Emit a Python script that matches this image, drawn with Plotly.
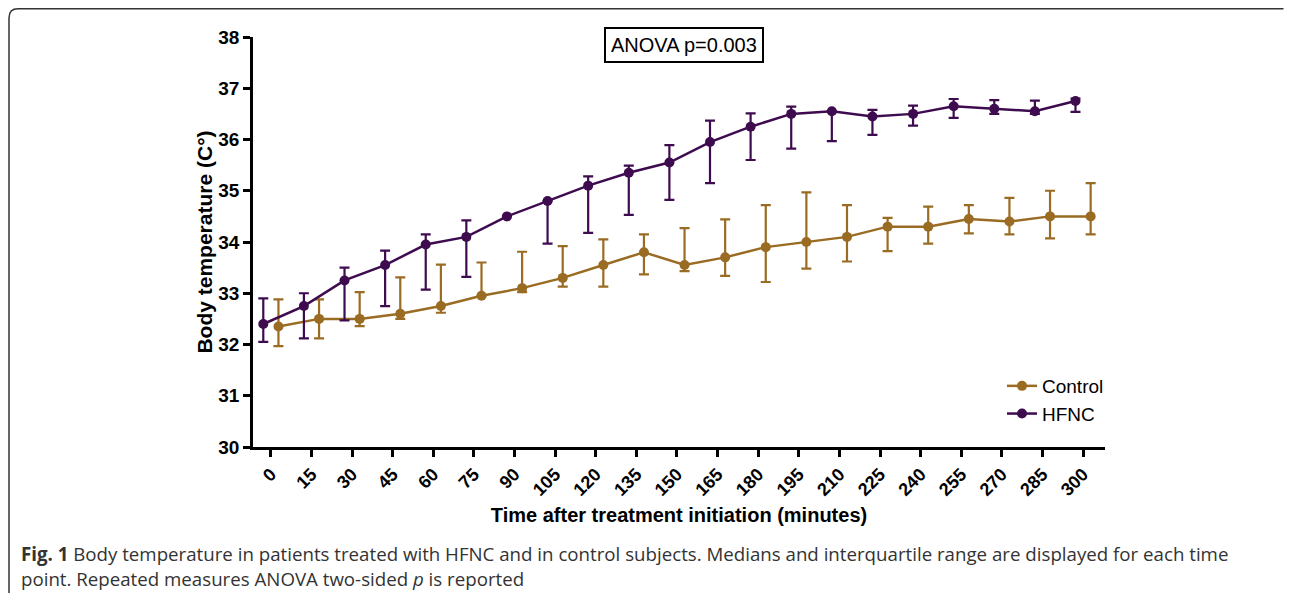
import plotly.graph_objects as go

minutes = [0, 15, 30, 45, 60, 75, 90, 105, 120, 135, 150, 165, 180, 195, 210, 225, 240, 255, 270, 285, 300]

hfnc_median = [32.40, 32.75, 33.25, 33.55, 33.95, 34.10, 34.50, 34.80, 35.10, 35.35, 35.55, 35.95, 36.25, 36.50, 36.55, 36.45, 36.50, 36.65, 36.60, 36.55, 36.75]
hfnc_q1 = [32.05, 32.12, 32.47, 32.75, 33.07, 33.32, 34.50, 33.97, 34.18, 34.53, 34.82, 35.15, 35.60, 35.82, 35.97, 36.09, 36.27, 36.42, 36.50, 36.50, 36.54]
hfnc_q3 = [32.90, 33.00, 33.50, 33.83, 34.15, 34.42, 34.50, 34.80, 35.28, 35.49, 35.89, 36.37, 36.51, 36.64, 36.55, 36.58, 36.66, 36.79, 36.77, 36.76, 36.80]

control_median = [32.35, 32.50, 32.50, 32.60, 32.75, 32.95, 33.10, 33.30, 33.55, 33.80, 33.55, 33.70, 33.90, 34.00, 34.10, 34.30, 34.30, 34.45, 34.40, 34.50, 34.50]
control_q1 = [31.97, 32.12, 32.36, 32.50, 32.62, 32.95, 33.02, 33.13, 33.13, 33.37, 33.43, 33.34, 33.22, 33.48, 33.62, 33.82, 33.97, 34.17, 34.15, 34.07, 34.15]
control_q3 = [32.88, 32.88, 33.02, 33.31, 33.56, 33.60, 33.81, 33.92, 34.05, 34.15, 34.27, 34.44, 34.72, 34.97, 34.72, 34.47, 34.69, 34.72, 34.86, 35.00, 35.15]

y_ticks = [30, 31, 32, 33, 34, 35, 36, 37, 38]

CONTROL_COLOR = "#9a6b22"
HFNC_COLOR = "#3e0b4f"
DODGE = 2.8  # minutes, horizontal nudge so the two series do not overlap

# The page has an 8px body margin on every side; keep the figure inside the window.
OFF = 8
W, H = 1292 - 2 * OFF, 601 - 2 * OFF
PLOT_L, PLOT_R, PLOT_T, PLOT_B = 253, 1105, 37, 447   # page coords of plot area
L, R, T, B = PLOT_L - OFF, (W + OFF) - PLOT_R, PLOT_T - OFF, (H + OFF) - PLOT_B
PW, PH = PLOT_R - PLOT_L, PLOT_B - PLOT_T


def px_x(px):
    return (px - PLOT_L) / PW


def px_y(py):
    return (PLOT_B - py) / PH


fig = go.Figure()

fig.add_trace(go.Scatter(
    x=[m + DODGE for m in minutes], y=control_median, name="Control",
    mode="lines+markers",
    line=dict(color=CONTROL_COLOR, width=2.5),
    marker=dict(color=CONTROL_COLOR, size=10, symbol="circle"),
    error_y=dict(type="data", symmetric=False,
                 array=[q - m for q, m in zip(control_q3, control_median)],
                 arrayminus=[m - q for q, m in zip(control_q1, control_median)],
                 color=CONTROL_COLOR, thickness=2.2, width=5),
))

fig.add_trace(go.Scatter(
    x=[m - DODGE for m in minutes], y=hfnc_median, name="HFNC",
    mode="lines+markers",
    line=dict(color=HFNC_COLOR, width=2.5),
    marker=dict(color=HFNC_COLOR, size=10, symbol="circle"),
    error_y=dict(type="data", symmetric=False,
                 array=[q - m for q, m in zip(hfnc_q3, hfnc_median)],
                 arrayminus=[m - q for q, m in zip(hfnc_q1, hfnc_median)],
                 color=HFNC_COLOR, thickness=2.2, width=5),
))

# Rounded frame around the figure panel (page coords): left side and top only,
# the right and bottom edges fall outside the visible window.
x0, x1, y0, y1, r = 9, 1283.5, 8.75, 604, 9
path = (f"M {px_x(x0)},{px_y(y1)} L {px_x(x0)},{px_y(y0 + r)} "
        f"Q {px_x(x0)},{px_y(y0)} {px_x(x0 + r)},{px_y(y0)} "
        f"L {px_x(x1)},{px_y(y0)}")

fig.update_layout(
    width=W, height=H,
    margin=dict(l=L, r=R, t=T, b=B, autoexpand=False),
    paper_bgcolor="white", plot_bgcolor="white",
    font=dict(family="Arial, Liberation Sans, sans-serif", color="black"),
    showlegend=True,
    legend=dict(x=px_x(1002), y=px_y(367), xanchor="left", yanchor="top",
                font=dict(size=19, family="Arial, Liberation Sans, sans-serif"),
                bgcolor="rgba(0,0,0,0)", borderwidth=0),
    xaxis=dict(
        range=[-6.6, 308.1], tickmode="array", tickvals=minutes,
        ticktext=[str(m) for m in minutes], tickangle=-45,
        showline=True, linecolor="black", linewidth=2.5,
        ticks="outside", ticklen=7, tickwidth=2.5, tickcolor="black",
        showgrid=False, zeroline=False,
        tickfont=dict(size=18, weight="bold"),
        title=dict(text="<b>Time after treatment initiation (minutes)</b>",
                   font=dict(size=20), standoff=10),
    ),
    yaxis=dict(
        range=[30, 38], tickmode="array", tickvals=y_ticks,
        showline=True, linecolor="black", linewidth=2.5,
        ticks="outside", ticklen=7, tickwidth=2.5, tickcolor="black",
        showgrid=False, zeroline=False,
        tickfont=dict(size=19, weight="bold"),
        title=dict(text="<b>Body temperature (C°)</b>", font=dict(size=21), standoff=0),
    ),
    shapes=[dict(type="path", path=path, xref="paper", yref="paper",
                 line=dict(color="#333333", width=1.5))],
    annotations=[
        dict(text="ANOVA p=0.003", x=px_x(684), y=px_y(44.5), xref="paper", yref="paper",
             xanchor="center", yanchor="middle", showarrow=False,
             font=dict(size=20, color="black"), bordercolor="black", borderwidth=2,
             borderpad=5, bgcolor="white"),
        dict(text="<b>Fig. 1</b> Body temperature in patients treated with HFNC and in control subjects. "
                  "Medians and interquartile range are displayed for each time",
             x=px_x(19), y=px_y(553), xref="paper", yref="paper",
             xanchor="left", yanchor="middle", showarrow=False,
             font=dict(size=18.7, family="Open Sans, Noto Sans, sans-serif", color="#333333")),
        dict(text="point. Repeated measures ANOVA two-sided <i>p</i> is reported",
             x=px_x(19), y=px_y(578), xref="paper", yref="paper",
             xanchor="left", yanchor="middle", showarrow=False,
             font=dict(size=18.7, family="Open Sans, Noto Sans, sans-serif", color="#333333")),
    ],
)

fig.write_html("out.html",
               post_script="document.documentElement.style.overflow='hidden';")
